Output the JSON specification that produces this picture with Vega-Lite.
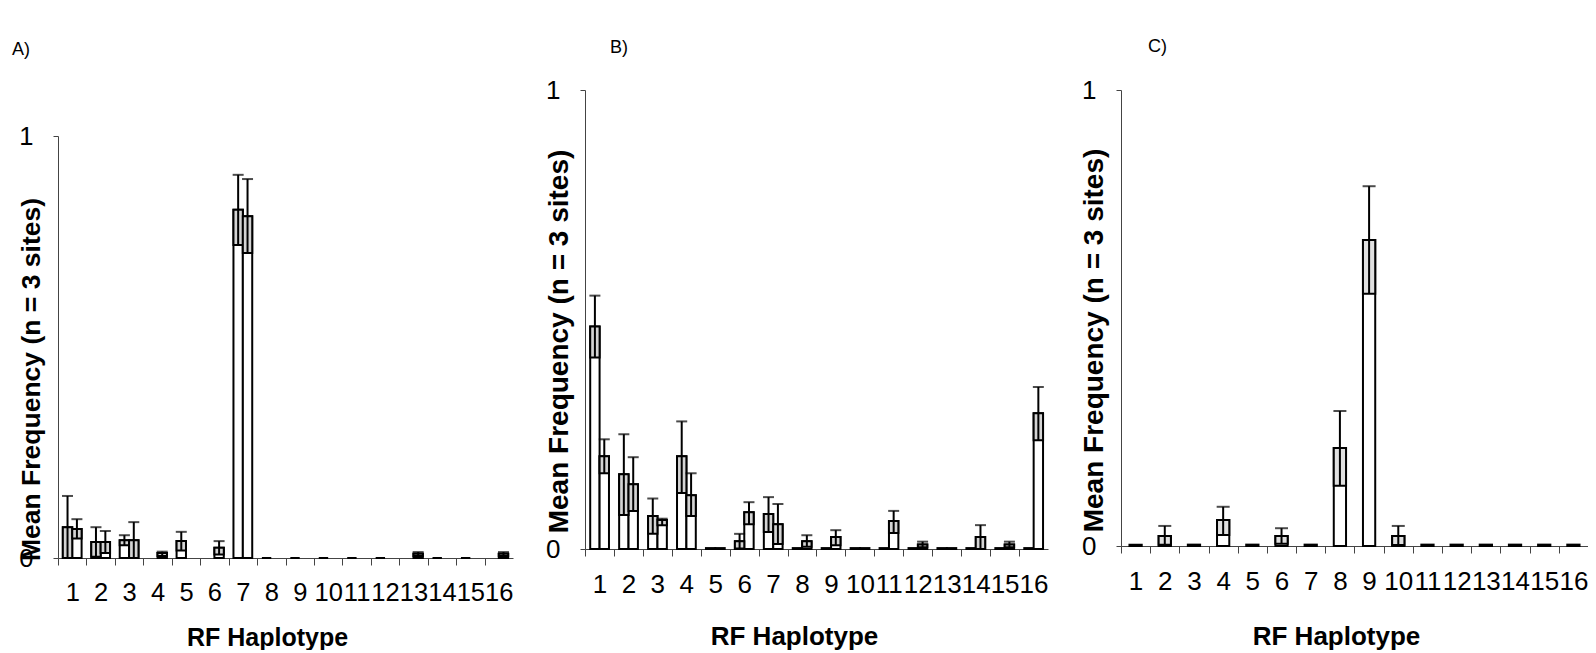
{
  "$schema": "https://vega.github.io/schema/vega-lite/v6.json",
  "background": "white",
  "padding": {"left": 12, "top": 38, "right": 0, "bottom": 0},
  "spacing": 31,
  "config": {
    "view": {"stroke": null},
    "font": "Liberation Sans",
    "title": {"font": "Liberation Sans", "fontSize": 18, "fontWeight": "normal", "anchor": "start", "frame": "group", "color": "black"},
    "axis": {"domainColor": "#444", "tickColor": "#444", "labelColor": "black", "titleColor": "black", "labelFont": "Liberation Sans", "titleFont": "Liberation Sans", "grid": false},
    "bar": {"stroke": "black", "strokeWidth": 2}
  },
  "datasets": {
    "a": [
      {"hap": 1, "s": "L", "v": 0.073, "lo": 0.0, "hi": 0.147},
      {"hap": 1, "s": "R", "v": 0.069, "lo": 0.046, "hi": 0.092},
      {"hap": 2, "s": "L", "v": 0.038, "lo": 0.003, "hi": 0.073},
      {"hap": 2, "s": "R", "v": 0.038, "lo": 0.012, "hi": 0.064},
      {"hap": 3, "s": "L", "v": 0.042, "lo": 0.03, "hi": 0.054},
      {"hap": 3, "s": "R", "v": 0.042, "lo": 0.0, "hi": 0.085},
      {"hap": 4, "s": "R", "v": 0.012, "lo": 0.005, "hi": 0.015},
      {"hap": 5, "s": "L", "v": 0.04, "lo": 0.018, "hi": 0.062},
      {"hap": 6, "s": "R", "v": 0.024, "lo": 0.008, "hi": 0.04},
      {"hap": 7, "s": "L", "v": 0.825, "lo": 0.742, "hi": 0.908},
      {"hap": 7, "s": "R", "v": 0.81, "lo": 0.723, "hi": 0.898},
      {"hap": 8, "s": "L", "v": 0.0, "lo": null, "hi": null},
      {"hap": 9, "s": "L", "v": 0.0, "lo": null, "hi": null},
      {"hap": 10, "s": "L", "v": 0.0, "lo": null, "hi": null},
      {"hap": 11, "s": "L", "v": 0.0, "lo": null, "hi": null},
      {"hap": 12, "s": "L", "v": 0.0, "lo": null, "hi": null},
      {"hap": 13, "s": "R", "v": 0.01, "lo": 0.005, "hi": 0.014},
      {"hap": 14, "s": "L", "v": 0.0, "lo": null, "hi": null},
      {"hap": 15, "s": "L", "v": 0.0, "lo": null, "hi": null},
      {"hap": 16, "s": "R", "v": 0.01, "lo": 0.005, "hi": 0.014}
    ],
    "b": [
      {"hap": 1, "s": "L", "v": 0.485, "lo": 0.417, "hi": 0.552},
      {"hap": 1, "s": "R", "v": 0.202, "lo": 0.165, "hi": 0.239},
      {"hap": 2, "s": "L", "v": 0.163, "lo": 0.074, "hi": 0.25},
      {"hap": 2, "s": "R", "v": 0.141, "lo": 0.083, "hi": 0.2},
      {"hap": 3, "s": "L", "v": 0.072, "lo": 0.033, "hi": 0.11},
      {"hap": 3, "s": "R", "v": 0.063, "lo": 0.052, "hi": 0.066},
      {"hap": 4, "s": "L", "v": 0.202, "lo": 0.122, "hi": 0.278},
      {"hap": 4, "s": "R", "v": 0.117, "lo": 0.072, "hi": 0.165},
      {"hap": 5, "s": "L", "v": 0.002, "lo": null, "hi": null},
      {"hap": 5, "s": "R", "v": 0.002, "lo": null, "hi": null},
      {"hap": 6, "s": "L", "v": 0.017, "lo": 0.001, "hi": 0.033},
      {"hap": 6, "s": "R", "v": 0.08, "lo": 0.054, "hi": 0.102},
      {"hap": 7, "s": "L", "v": 0.076, "lo": 0.037, "hi": 0.113},
      {"hap": 7, "s": "R", "v": 0.054, "lo": 0.011, "hi": 0.098},
      {"hap": 8, "s": "L", "v": 0.002, "lo": null, "hi": null},
      {"hap": 8, "s": "R", "v": 0.017, "lo": 0.005, "hi": 0.03},
      {"hap": 9, "s": "L", "v": 0.002, "lo": null, "hi": null},
      {"hap": 9, "s": "R", "v": 0.026, "lo": 0.008, "hi": 0.041},
      {"hap": 10, "s": "L", "v": 0.002, "lo": null, "hi": null},
      {"hap": 10, "s": "R", "v": 0.002, "lo": null, "hi": null},
      {"hap": 11, "s": "L", "v": 0.002, "lo": null, "hi": null},
      {"hap": 11, "s": "R", "v": 0.061, "lo": 0.035, "hi": 0.083},
      {"hap": 12, "s": "L", "v": 0.002, "lo": null, "hi": null},
      {"hap": 12, "s": "R", "v": 0.01, "lo": 0.004, "hi": 0.016},
      {"hap": 13, "s": "L", "v": 0.002, "lo": null, "hi": null},
      {"hap": 13, "s": "R", "v": 0.002, "lo": null, "hi": null},
      {"hap": 14, "s": "L", "v": 0.002, "lo": null, "hi": null},
      {"hap": 14, "s": "R", "v": 0.026, "lo": 0.0, "hi": 0.052},
      {"hap": 15, "s": "L", "v": 0.002, "lo": null, "hi": null},
      {"hap": 15, "s": "R", "v": 0.01, "lo": 0.004, "hi": 0.016},
      {"hap": 16, "s": "L", "v": 0.002, "lo": null, "hi": null},
      {"hap": 16, "s": "R", "v": 0.296, "lo": 0.237, "hi": 0.353}
    ],
    "c": [
      {"hap": 1, "v": 0.003, "lo": null, "hi": null},
      {"hap": 2, "v": 0.022, "lo": 0.003, "hi": 0.044},
      {"hap": 3, "v": 0.003, "lo": null, "hi": null},
      {"hap": 4, "v": 0.057, "lo": 0.024, "hi": 0.086},
      {"hap": 5, "v": 0.003, "lo": null, "hi": null},
      {"hap": 6, "v": 0.022, "lo": 0.005, "hi": 0.039},
      {"hap": 7, "v": 0.003, "lo": null, "hi": null},
      {"hap": 8, "v": 0.215, "lo": 0.132, "hi": 0.296},
      {"hap": 9, "v": 0.671, "lo": 0.553, "hi": 0.789},
      {"hap": 10, "v": 0.022, "lo": 0.002, "hi": 0.044},
      {"hap": 11, "v": 0.003, "lo": null, "hi": null},
      {"hap": 12, "v": 0.003, "lo": null, "hi": null},
      {"hap": 13, "v": 0.003, "lo": null, "hi": null},
      {"hap": 14, "v": 0.003, "lo": null, "hi": null},
      {"hap": 15, "v": 0.003, "lo": null, "hi": null},
      {"hap": 16, "v": 0.003, "lo": null, "hi": null}
    ]
  },
  "hconcat": [
    {
      "title": {"text": "A)", "offset": 31, "dx": -46},
      "spacing": 0,
      "vconcat": [
        {
          "width": 10, "height": 34,
          "data": {"values": [{}]},
          "mark": {"type": "text"},
          "encoding": {"text": {"value": ""}}
        },
        {
          "width": 455, "height": 422,
          "data": {"name": "a"},
          "encoding": {
            "x": {"field": "hap", "type": "nominal", "sort": [1,2,3,4,5,6,7,8,9,10,11,12,13,14,15,16],
                  "scale": {"domain": [1,2,3,4,5,6,7,8,9,10,11,12,13,14,15,16], "paddingInner": 0.34, "paddingOuter": 0.17},
                  "axis": {"title": "RF Haplotype", "titleFontSize": 25, "titleFontWeight": "bold", "titleX": 209, "titleY": 79, "titleBaseline": "middle",
                           "labelAngle": 0, "labelFontSize": 25.5, "labelPadding": 15, "tickSize": 7, "tickOffset": -14.2, "labelOffset": 14.2, "labelOverlap": false}},
            "xOffset": {"field": "s", "type": "nominal", "scale": {"domain": ["L", "R"]}}
          },
          "layer": [
            {"mark": {"type": "bar", "fill": "white"},
             "encoding": {"y": {"field": "v", "type": "quantitative", "scale": {"domain": [0, 1], "nice": false},
                "axis": {"values": [0, 1], "format": "d", "title": "Mean Frequency (n = 3 sites)", "titleFontSize": 26.5, "titleFontWeight": "bold", "titleAngle": 270, "titleX": -27, "titleY": 243, "titleBaseline": "middle", "titleAlign": "center",
                         "labelFontSize": 25.5, "labelPadding": 20, "tickSize": 5}}}},
            {"transform": [{"filter": "datum.lo != null"}],
             "mark": {"type": "bar", "fill": "#d4d4d4"},
             "encoding": {"y": {"field": "lo", "type": "quantitative"}, "y2": {"field": "v"}}},
            {"transform": [{"filter": "datum.lo != null"}],
             "mark": {"type": "rule", "color": "black", "strokeWidth": 2},
             "encoding": {"y": {"field": "lo", "type": "quantitative"}, "y2": {"field": "hi"}}},
            {"transform": [{"filter": "datum.hi != null"}],
             "mark": {"type": "tick", "color": "black", "thickness": 2, "size": 11, "orient": "horizontal"},
             "encoding": {"y": {"field": "hi", "type": "quantitative"}}}
          ]
        }
      ]
    },
    {
      "title": {"text": "B)", "offset": 20, "dx": 25},
      "width": 463, "height": 459,
      "data": {"name": "b"},
      "encoding": {
        "x": {"field": "hap", "type": "nominal", "sort": [1,2,3,4,5,6,7,8,9,10,11,12,13,14,15,16],
              "scale": {"domain": [1,2,3,4,5,6,7,8,9,10,11,12,13,14,15,16], "paddingInner": 0.36, "paddingOuter": 0.18},
              "axis": {"title": "RF Haplotype", "titleFontSize": 26, "titleFontWeight": "bold", "titleX": 209, "titleY": 87, "titleBaseline": "middle",
                       "labelAngle": 0, "labelFontSize": 26, "labelPadding": 15, "tickSize": 7, "tickOffset": -14.5, "labelOffset": 14.5, "labelOverlap": false}},
        "xOffset": {"field": "s", "type": "nominal", "scale": {"domain": ["L", "R"]}}
      },
      "layer": [
        {"mark": {"type": "bar", "fill": "white"},
         "encoding": {"y": {"field": "v", "type": "quantitative", "scale": {"domain": [0, 1], "nice": false},
            "axis": {"values": [0, 1], "format": "d", "title": "Mean Frequency (n = 3 sites)", "titleFontSize": 28, "titleFontWeight": "bold", "titleAngle": 270, "titleX": -26, "titleY": 251, "titleBaseline": "middle", "titleAlign": "center",
                     "labelFontSize": 26, "labelPadding": 20, "tickSize": 5}}}},
        {"transform": [{"filter": "datum.lo != null"}],
         "mark": {"type": "bar", "fill": "#d4d4d4"},
         "encoding": {"y": {"field": "lo", "type": "quantitative"}, "y2": {"field": "v"}}},
        {"transform": [{"filter": "datum.lo != null"}],
         "mark": {"type": "rule", "color": "black", "strokeWidth": 2},
         "encoding": {"y": {"field": "lo", "type": "quantitative"}, "y2": {"field": "hi"}}},
        {"transform": [{"filter": "datum.hi != null"}],
         "mark": {"type": "tick", "color": "black", "thickness": 2, "size": 11, "orient": "horizontal"},
         "encoding": {"y": {"field": "hi", "type": "quantitative"}}}
      ]
    },
    {
      "title": {"text": "C)", "offset": 21, "dx": 27},
      "width": 467, "height": 456,
      "data": {"name": "c"},
      "encoding": {
        "x": {"field": "hap", "type": "nominal", "sort": [1,2,3,4,5,6,7,8,9,10,11,12,13,14,15,16],
              "scale": {"domain": [1,2,3,4,5,6,7,8,9,10,11,12,13,14,15,16], "paddingInner": 0.58, "paddingOuter": 0.29},
              "axis": {"title": "RF Haplotype", "titleFontSize": 26, "titleFontWeight": "bold", "titleX": 215, "titleY": 90, "titleBaseline": "middle",
                       "labelAngle": 0, "labelFontSize": 26, "labelPadding": 15, "tickSize": 7, "tickOffset": -14.6, "labelOffset": 14.6, "labelOverlap": false}}
      },
      "layer": [
        {"mark": {"type": "bar", "fill": "white"},
         "encoding": {"y": {"field": "v", "type": "quantitative", "scale": {"domain": [0, 1], "nice": false},
            "axis": {"values": [0, 1], "format": "d", "title": "Mean Frequency (n = 3 sites)", "titleFontSize": 28, "titleFontWeight": "bold", "titleAngle": 270, "titleX": -27, "titleY": 250, "titleBaseline": "middle", "titleAlign": "center",
                     "labelFontSize": 26, "labelPadding": 20, "tickSize": 5}}}},
        {"transform": [{"filter": "datum.lo != null"}],
         "mark": {"type": "bar", "fill": "#e0e0e0"},
         "encoding": {"y": {"field": "lo", "type": "quantitative"}, "y2": {"field": "v"}}},
        {"transform": [{"filter": "datum.lo != null"}],
         "mark": {"type": "rule", "color": "black", "strokeWidth": 2},
         "encoding": {"y": {"field": "lo", "type": "quantitative"}, "y2": {"field": "hi"}}},
        {"transform": [{"filter": "datum.hi != null"}],
         "mark": {"type": "tick", "color": "black", "thickness": 2, "size": 13, "orient": "horizontal"},
         "encoding": {"y": {"field": "hi", "type": "quantitative"}}}
      ]
    }
  ]
}
